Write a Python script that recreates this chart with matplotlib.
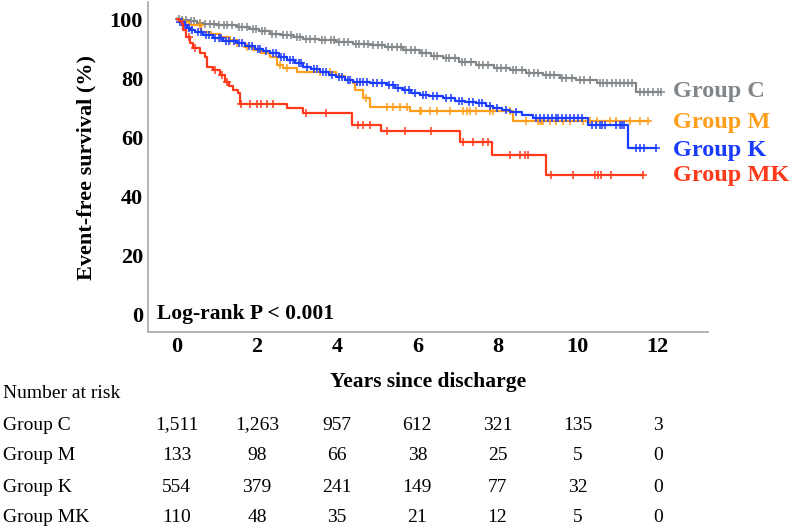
import numpy as np
import matplotlib
matplotlib.use("Agg")
import matplotlib.pyplot as plt
import matplotlib.transforms as mtransforms

plt.rcParams['font.family'] = ['Liberation Serif', 'DejaVu Serif']

# Kaplan-Meier step data (years, event-free survival %)
c_time = [0, 0.1, 0.3, 0.5, 0.66, 1.0, 1.49, 1.8, 2.05, 2.32, 2.6, 2.9, 3.15, 3.55, 3.98,
          4.4, 4.81, 5.2, 5.64, 6.06, 6.35, 6.64, 7.05, 7.47, 7.9, 8.3, 8.7, 9.13, 9.55,
          9.96, 10.47, 11.46, 12.09]
c_surv = [100, 99.6, 99.2, 98.8, 98.5, 98.0, 97.4, 96.6, 96.0, 95.1, 94.5, 93.9, 93.4, 92.8, 92.3,
          91.7, 91.2, 90.4, 89.5, 88.4, 87.6, 86.7, 85.6, 84.4, 83.4, 82.7, 81.8, 81.0, 80.1,
          79.3, 78.2, 75.4, 75.4]
c_cens = [0.05, 0.14, 0.22, 0.35, 0.42, 0.58, 0.7, 0.83, 0.92, 1.05, 1.17, 1.26, 1.38, 1.55, 1.63,
          1.74, 1.9, 1.98, 2.12, 2.2, 2.38, 2.47, 2.66, 2.74, 2.85, 3.0, 3.08, 3.22, 3.31, 3.45,
          3.62, 3.7, 3.84, 3.93, 4.05, 4.16, 4.27, 4.46, 4.55, 4.68, 4.76, 4.9, 5.02, 5.11, 5.27,
          5.36, 5.5, 5.58, 5.72, 5.85, 5.95, 6.12, 6.22, 6.42, 6.5, 6.72, 6.8, 6.93, 7.12, 7.2,
          7.33, 7.55, 7.63, 7.75, 7.98, 8.08, 8.2, 8.38, 8.47, 8.6, 8.78, 8.9, 9.02, 9.2, 9.3,
          9.42, 9.62, 9.7, 9.85, 10.05, 10.15, 10.3, 10.55, 10.63, 10.72, 10.85, 10.95, 11.05,
          11.15, 11.25, 11.36, 11.55, 11.65, 11.75, 11.88, 12.0, 12.09]

m_time = [0, 0.15, 0.3, 0.6, 0.85, 1.07, 1.3, 1.49, 1.7, 1.9, 2.1, 2.32, 2.49, 2.65, 3.0,
          3.98, 4.2, 4.4, 4.45, 4.65, 4.81, 5.81, 8.39, 11.75]
m_surv = [100, 99, 98, 95.7, 94.8, 94, 92.9, 91.8, 90.6, 89.5, 88.4, 87.2, 84.4, 83.3, 82.1,
          80.8, 79.5, 78.2, 75.9, 73.1, 70.3, 68.7, 65.4, 65.4]
m_cens = [0.57, 1.32, 1.49, 1.74, 2.57, 2.74, 3.57, 3.82, 4.73, 5.23, 5.39, 5.56, 5.73, 6.06,
          6.1, 6.31, 6.48, 6.81, 7.14, 7.23, 7.31, 7.47, 7.81, 7.89, 8.3, 8.72, 9.01, 9.05, 9.09,
          9.13, 9.3, 9.47, 9.63, 9.8, 10.13, 10.3, 10.47, 10.8, 10.96, 11.3, 11.55, 11.75]

k_time = [0, 0.05, 0.16, 0.25, 0.32, 0.45, 0.66, 0.9, 1.15, 1.49, 1.7, 1.95, 2.15, 2.32, 2.55,
          2.74, 2.95, 3.15, 3.35, 3.57, 3.8, 3.98, 4.2, 4.4, 4.81, 5.23, 5.45, 5.64, 5.85, 6.06,
          6.3, 6.64, 6.95, 7.2, 7.47, 7.7, 7.89, 8.1, 8.3, 8.6, 8.89, 10.26, 11.26, 11.96]
k_surv = [100, 99, 98, 97, 96.3, 95.5, 94.6, 93.6, 92.7, 91.8, 90.9, 89.8, 89.1, 88.4, 87.2,
          86.1, 85, 83.8, 83, 82.1, 81.2, 80.4, 79.5, 78.7, 78.2, 77.6, 76.8, 75.9, 75, 74.4,
          73.8, 73.1, 72.3, 71.9, 71.4, 70.5, 69.7, 69.1, 68.6, 67.4, 66.3, 64.1, 56.2, 56.2]
k_cens = [0.08, 0.12, 0.2, 0.3, 0.38, 0.52, 0.6, 0.72, 0.8, 0.95, 1.04, 1.1, 1.22, 1.3, 1.42,
          1.55, 1.62, 1.8, 1.88, 2.02, 2.08, 2.22, 2.4, 2.47, 2.6, 2.68, 2.82, 2.9, 3.05, 3.1,
          3.25, 3.42, 3.5, 3.65, 3.72, 3.88, 4.05, 4.12, 4.28, 4.33, 4.5, 4.58, 4.65, 4.75, 4.9,
          5.0, 5.12, 5.3, 5.38, 5.52, 5.7, 5.78, 5.95, 6.15, 6.22, 6.4, 6.5, 6.72, 6.85, 7.05,
          7.12, 7.3, 7.38, 7.55, 7.62, 7.8, 7.98, 8.2, 8.45, 8.95, 9.05, 9.15, 9.25, 9.35, 9.45,
          9.52, 9.6, 9.7, 9.8, 9.9, 10.0, 10.1, 10.35, 10.45, 10.55, 10.6, 10.68, 10.95, 11.05,
          11.1, 11.15, 11.45, 11.55, 11.65, 11.96]

mk_time = [0, 0.06, 0.12, 0.16, 0.24, 0.32, 0.41, 0.57, 0.7, 0.74, 0.9, 1.07, 1.2, 1.3, 1.4,
           1.53, 1.58, 2.74, 3.15, 4.36, 5.1, 7.06, 7.87, 9.2, 11.63]
mk_surv = [100, 99.2, 98.5, 96.3, 94, 91.8, 90.1, 88.4, 87.2, 83.8, 82.7, 81, 78.7, 77.3, 75.9,
           74.8, 71.2, 69.7, 68.2, 64.1, 62.2, 58.4, 53.9, 47.1, 47.1]
mk_cens = [0.3, 0.45, 0.95, 1.12, 1.25, 1.61, 1.82, 1.99, 2.11, 2.24, 2.4, 3.23, 3.73, 4.52,
           4.65, 4.81, 5.23, 5.69, 6.35, 7.14, 7.39, 7.64, 7.76, 8.3, 8.55, 8.68, 8.76, 9.34,
           9.88, 10.42, 10.51, 10.59, 10.84, 11.63]

groups = ['Group C', 'Group M', 'Group K', 'Group MK']
colors = ['#80868a', '#ff9e1b', '#1a3cff', '#ff3a1a']
label_y = [75.3, 65.1, 55.6, 47.1]

# number at risk table
risk_years = [0, 2, 4, 6, 8, 10, 12]
risk_c = ['1,511', '1,263', '957', '612', '321', '135', '3']
risk_m = ['133', '98', '66', '38', '25', '5', '0']
risk_k = ['554', '379', '241', '149', '77', '32', '0']
risk_mk = ['110', '48', '35', '21', '12', '5', '0']

curves = [(c_time, c_surv, c_cens), (m_time, m_surv, m_cens),
          (k_time, k_surv, k_cens), (mk_time, mk_surv, mk_cens)]

fig = plt.figure(figsize=(7.97, 5.30), dpi=100)
ax = fig.add_axes([0.1857, 0.3736, 0.7026, 0.6226])

for (t, s, cens), col in zip(curves, colors):
    ax.step(t, s, where='post', color=col, lw=1.6)
    t = np.array(t)
    s = np.array(s)
    idx = np.searchsorted(t, cens, side='right') - 1
    ax.plot(cens, s[idx], ls='none', marker='+', ms=6, mew=1.1, color=col)

for name, col, yy in zip(groups, colors, label_y):
    ax.text(12.37, yy, name, color=col, fontsize=17.5, fontweight='bold',
            ha='left', va='center', clip_on=False)

ax.text(-0.5, 0, 'Log-rank P < 0.001', fontsize=15.5, fontweight='bold',
        ha='left', va='center')

ax.set_xlim(-0.72, 13.25)
ax.set_ylim(-6.1, 105.8)
ax.set_xticks(risk_years)
ax.set_yticks([0, 20, 40, 60, 80, 100])
ax.tick_params(length=0, labelsize=16)
ax.tick_params(axis='y', pad=3.6)
ax.tick_params(axis='x', pad=3.5)
for lab in ax.get_xticklabels() + ax.get_yticklabels():
    lab.set_fontweight('bold')

for side in ['top', 'right']:
    ax.spines[side].set_visible(False)
for side in ['left', 'bottom']:
    ax.spines[side].set_color('#a8a8a8')
    ax.spines[side].set_linewidth(1.2)

ax.set_xlabel('Years since discharge', fontsize=15.5, fontweight='bold', va='center')
ax.xaxis.set_label_coords(0.5, -0.152)
ax.set_ylabel('Event-free survival (%)', fontsize=16, fontweight='bold', va='center')
ax.yaxis.set_label_coords(-0.109, 0.5)

# number at risk below the plot
trans = mtransforms.blended_transform_factory(ax.transData, fig.transFigure)
fig.text(0.004, 1 - 393 / 530, 'Number at risk', fontsize=14, ha='left', va='center')
row_y = [425, 456, 488, 518]
for name, row, py in zip(groups, [risk_c, risk_m, risk_k, risk_mk], row_y):
    fig.text(0.004, 1 - py / 530, name, fontsize=14, ha='left', va='center')
    for xv, val in zip(risk_years, row):
        ax.text(xv, 1 - py / 530, val, transform=trans, fontsize=14,
                ha='center', va='center', clip_on=False)

fig.savefig('out.png', dpi=100)
